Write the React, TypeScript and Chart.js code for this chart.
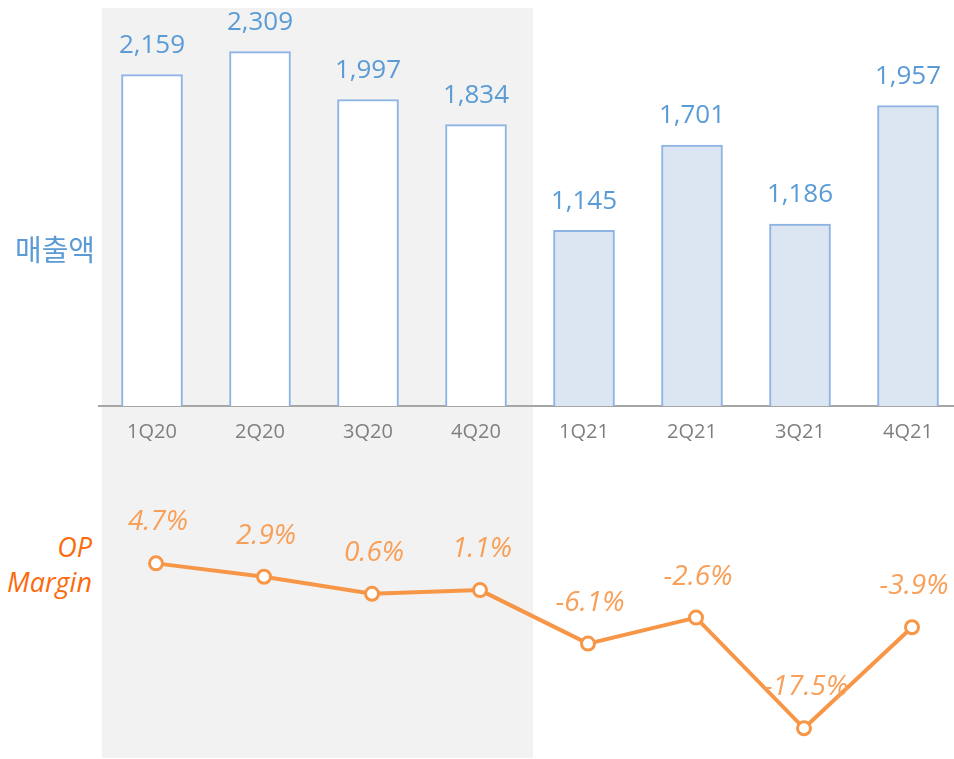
import React, { useEffect, useRef } from "react";
import { Chart, registerables } from "chart.js";
Chart.register(...registerables);

const categories = ["1Q20", "2Q20", "3Q20", "4Q20", "1Q21", "2Q21", "3Q21", "4Q21"];
const revenue = [2159, 2309, 1997, 1834, 1145, 1701, 1186, 1957];
const opMargin = [4.7, 2.9, 0.6, 1.1, -6.1, -2.6, -17.5, -3.9];
const revenueLabel = "매출액";
const marginLabelLines = ["OP", "Margin"];

const BLUE_TEXT = "#5b9bd5";
const BAR_BORDER = "#8db4e2";
const BAR_FILL_2021 = "#dce6f2";
const ORANGE = "#f79646";
const ORANGE_DARK = "#fb6a0c";
const FONT = "'Open Sans', 'Noto Sans', sans-serif";

const barLabelPlugin = {
  id: "barLabels",
  afterDatasetsDraw(chart: any) {
    const ctx = chart.ctx;
    const meta = chart.getDatasetMeta(0);
    ctx.save();
    ctx.font = `26px ${FONT}`;
    ctx.fillStyle = BLUE_TEXT;
    ctx.textAlign = "center";
    ctx.textBaseline = "middle";
    meta.data.forEach((el: any, i: number) => {
      ctx.fillText(revenue[i].toLocaleString("en-US"), el.x, el.y - 29);
    });
    ctx.restore();
  },
};

const lineLabelPlugin = {
  id: "lineLabels",
  afterDatasetsDraw(chart: any) {
    const ctx = chart.ctx;
    const meta = chart.getDatasetMeta(0);
    ctx.save();
    ctx.font = `italic 28px ${FONT}`;
    ctx.fillStyle = "#f8a059";
    ctx.textAlign = "center";
    ctx.textBaseline = "middle";
    meta.data.forEach((el: any, i: number) => {
      ctx.fillText(opMargin[i].toFixed(1) + "%", el.x + 2, el.y - 41);
    });
    ctx.restore();
  },
};

export default function App() {
  const barRef = useRef<HTMLCanvasElement>(null);
  const lineRef = useRef<HTMLCanvasElement>(null);

  useEffect(() => {
    const barChart = new Chart(barRef.current!, {
      type: "bar",
      data: {
        labels: categories,
        datasets: [
          {
            data: revenue,
            backgroundColor: categories.map((c) => (c.endsWith("20") ? "#ffffff" : BAR_FILL_2021)),
            borderColor: BAR_BORDER,
            borderWidth: 2,
            barThickness: 61,
          },
        ],
      },
      options: {
        animation: false,
        responsive: false,
        maintainAspectRatio: false,
        layout: { padding: 0, autoPadding: false },
        plugins: { legend: { display: false }, tooltip: { enabled: false } },
        scales: {
          x: {
            display: true,
            grid: { display: false, drawTicks: false },
            border: { display: true, color: "#a6a6a6", width: 2 },
            ticks: { color: "#7f7f7f", font: { family: FONT, size: 20 }, padding: 14, maxRotation: 0 },
            afterFit: (scale: any) => {
              scale.height = 45;
            },
          },
          y: { display: false, min: 0, max: 2600 },
        },
      },
      plugins: [barLabelPlugin],
    });

    const lineChart = new Chart(lineRef.current!, {
      type: "line",
      data: {
        labels: categories,
        datasets: [
          {
            data: opMargin,
            borderColor: ORANGE,
            borderWidth: 4,
            pointRadius: 6.5,
            pointBorderWidth: 3,
            pointBackgroundColor: "#ffffff",
            pointBorderColor: ORANGE,
            tension: 0,
            clip: false,
          },
        ],
      },
      options: {
        animation: false,
        responsive: false,
        maintainAspectRatio: false,
        layout: { padding: 0, autoPadding: false },
        plugins: { legend: { display: false }, tooltip: { enabled: false } },
        scales: {
          x: { display: false, offset: true },
          y: { display: false, min: -21.5, max: 17 },
        },
      },
      plugins: [lineLabelPlugin],
    });

    return () => {
      barChart.destroy();
      lineChart.destroy();
    };
  }, []);

  return (
    <div
      style={{
        position: "fixed",
        left: 0,
        top: 0,
        width: 954,
        height: 759,
        overflow: "hidden",
        background: "#ffffff",
      }}
    >
      <div style={{ position: "absolute", left: 102, top: 8, width: 431, height: 750, background: "#f2f2f2" }} />
      <canvas
        ref={barRef}
        width={864}
        height={444}
        style={{ position: "absolute", left: 98, top: 7, width: 864, height: 444 }}
      />
      <canvas
        ref={lineRef}
        width={864}
        height={286}
        style={{ position: "absolute", left: 102, top: 472, width: 864, height: 286 }}
      />
      <div
        style={{
          position: "absolute",
          left: 0,
          top: 228,
          width: 110,
          textAlign: "center",
          fontFamily: "'Noto Sans CJK KR', sans-serif",
          fontSize: 29,
          lineHeight: "40px",
          color: BLUE_TEXT,
        }}
      >
        {revenueLabel}
      </div>
      <div
        style={{
          position: "absolute",
          left: 0,
          top: 529,
          width: 92,
          textAlign: "right",
          fontFamily: FONT,
          fontStyle: "italic",
          fontSize: 27,
          lineHeight: "35px",
          color: ORANGE_DARK,
        }}
      >
        {marginLabelLines.map((t) => (
          <div key={t}>{t}</div>
        ))}
      </div>
    </div>
  );
}
